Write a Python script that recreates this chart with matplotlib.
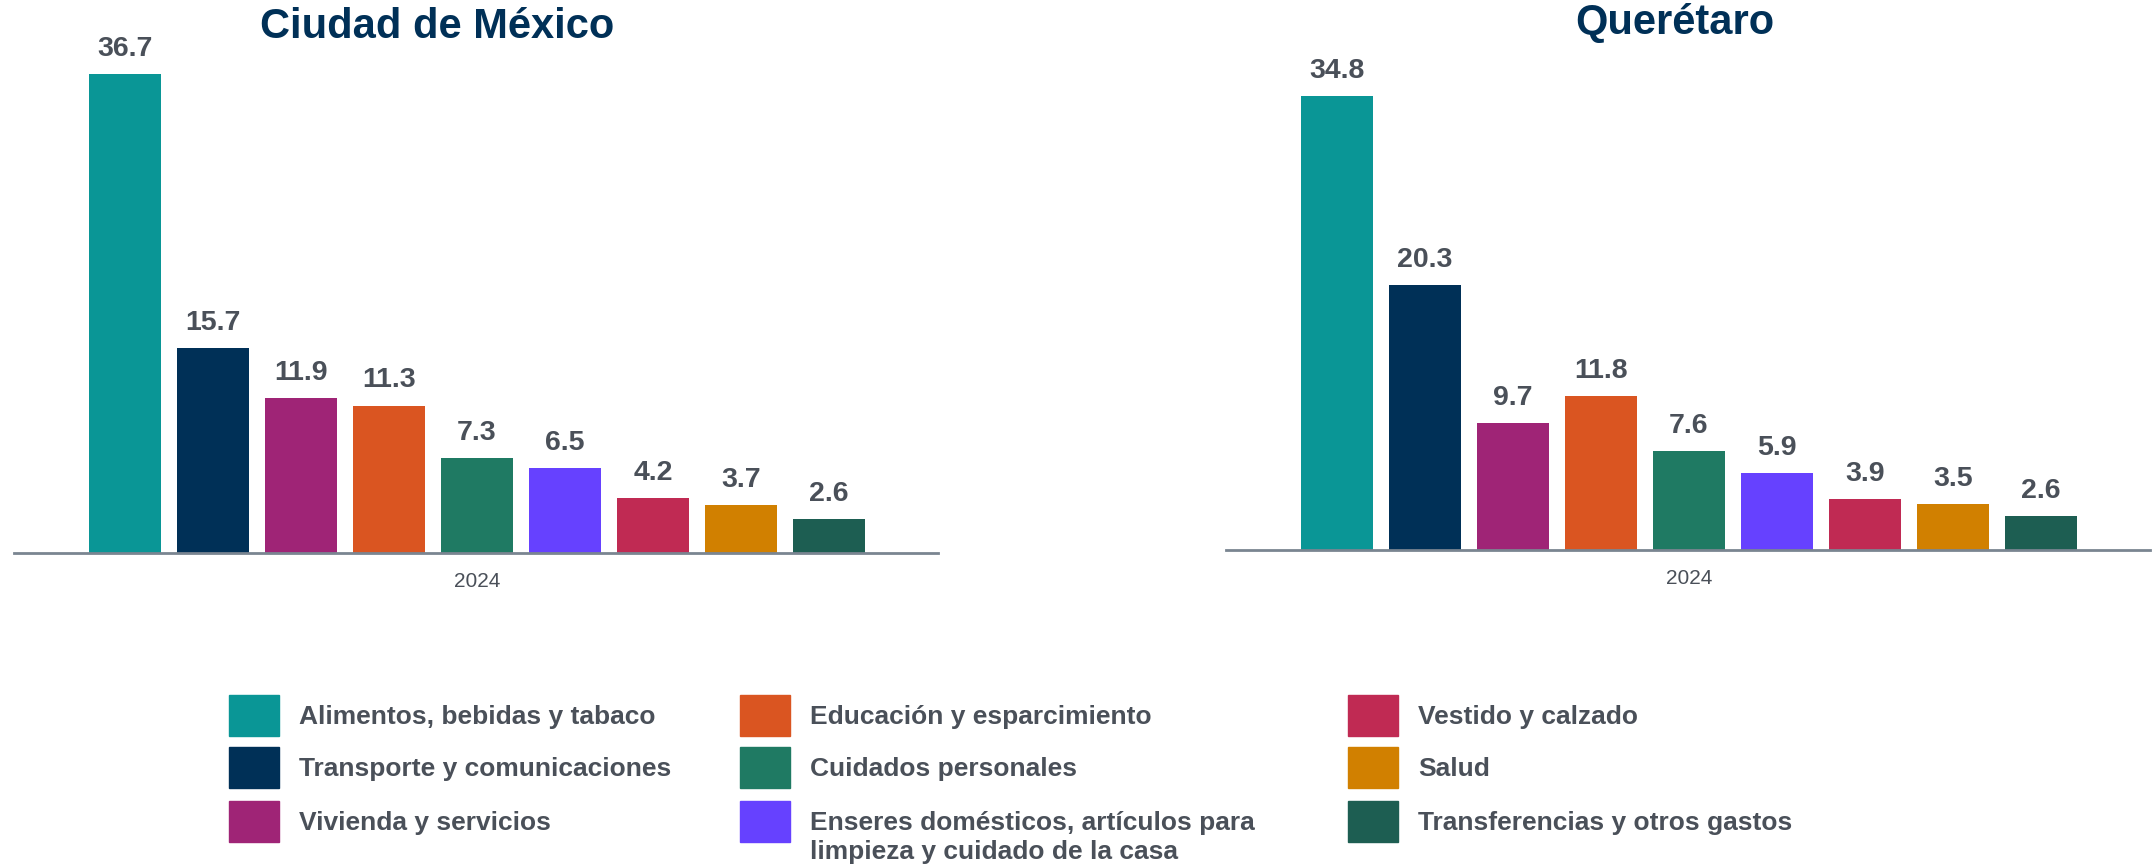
import matplotlib
matplotlib.use("Agg")
import matplotlib.pyplot as plt
from matplotlib.patches import Rectangle

plt.rcParams['font.family'] = ['Liberation Sans', 'DejaVu Sans']

categories = [
    "Alimentos, bebidas y tabaco",
    "Transporte y comunicaciones",
    "Vivienda y servicios",
    "Educación y esparcimiento",
    "Cuidados personales",
    "Enseres domésticos, artículos para\nlimpieza y cuidado de la casa",
    "Vestido y calzado",
    "Salud",
    "Transferencias y otros gastos",
]
cdmx_values = [36.7, 15.7, 11.9, 11.3, 7.3, 6.5, 4.2, 3.7, 2.6]
qro_values = [34.8, 20.3, 9.7, 11.8, 7.6, 5.9, 3.9, 3.5, 2.6]
colors = ["#0A9696", "#003057", "#9F2476", "#DA5521", "#1F7A63",
          "#6641FF", "#C02A53", "#D18000", "#1D5E52"]
year_label = "2024"
titles = ["Ciudad de México", "Querétaro"]

W, H = 2153, 868
TEXT = "#4A5059"
TITLE = "#003057"
AXIS = "#7A8591"

fig = plt.figure(figsize=(W / 100, H / 100), dpi=100)

def fx(px):
    return px / W

def fy(py):
    return 1 - py / H

panels = [
    dict(left=14, base=553, values=cdmx_values, title=titles[0], tx=437, ty=27),
    dict(left=1226, base=550, values=qro_values, title=titles[1], tx=1675, ty=23),
]
axw, axh = 924, 522

for p in panels:
    ax = fig.add_axes([fx(p["left"]), fy(p["base"]), axw / W, axh / H])
    xs = list(range(len(p["values"])))
    ax.bar(xs, p["values"], width=0.81, color=colors)
    ax.set_xlim(-1.26, 9.24)
    ax.set_ylim(0, 40)
    for s in ["top", "right", "left"]:
        ax.spines[s].set_visible(False)
    ax.spines["bottom"].set_color(AXIS)
    ax.spines["bottom"].set_linewidth(2)
    ax.set_yticks([])
    ax.set_xticks([4])
    ax.set_xticklabels([year_label])
    ax.tick_params(axis="x", length=0, pad=14, labelsize=15, labelcolor=TEXT)
    for x, v in zip(xs, p["values"]):
        ax.annotate(f"{v:.1f}", (x, v), xytext=(0, 13), textcoords="offset points",
                    ha="center", va="baseline", fontsize=20.5, fontweight="bold",
                    color=TEXT)
    fig.text(fx(p["tx"]), fy(p["ty"]), p["title"], ha="center", va="center",
             fontsize=30, fontweight="bold", color=TITLE)

# legend (manual, three columns)
col_x = [229, 740, 1348]
row_y = [715, 767, 821]
pw, ph = 50, 41
for i, (lab, c) in enumerate(zip(categories, colors)):
    col, row = divmod(i, 3)
    x0 = col_x[col]
    yc = row_y[row]
    fig.add_artist(Rectangle((fx(x0), fy(yc + ph / 2)), pw / W, ph / H,
                             transform=fig.transFigure, color=c))
    fig.text(fx(x0 + 70), fy(yc - 10), lab, ha="left", va="top",
             fontsize=19, fontweight="bold", color=TEXT, linespacing=1.25)

fig.savefig("out.png", dpi=100)
